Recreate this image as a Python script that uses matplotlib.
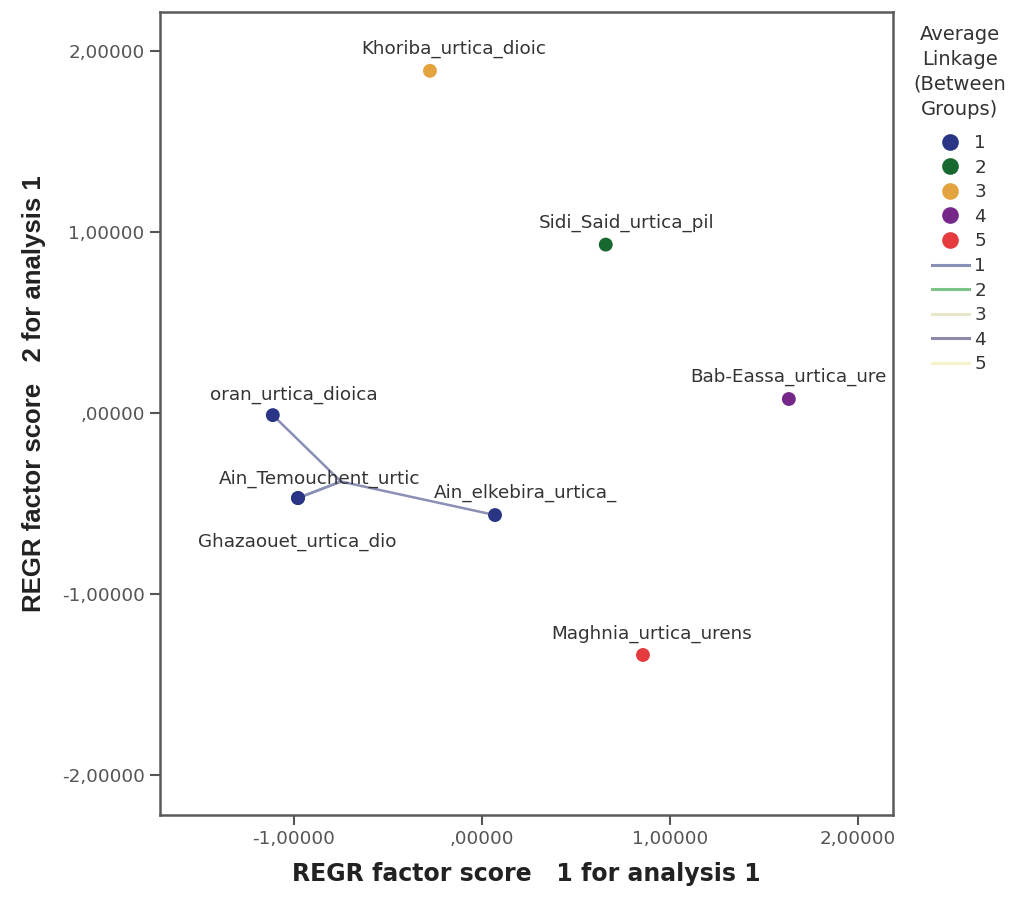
import matplotlib
matplotlib.use("Agg")
import matplotlib.pyplot as plt
from matplotlib.lines import Line2D
import numpy as np

plt.rcParams['font.family'] = ['DejaVu Sans']

# ---- data ----
names = ["Khoriba_urtica_dioic", "Sidi_Said_urtica_pil", "Bab-Eassa_urtica_ure",
         "oran_urtica_dioica", "Ain_Temouchent_urtic", "Ghazaouet_urtica_dio",
         "Ain_elkebira_urtica_", "Maghnia_urtica_urens"]
score1 = [-0.277, 0.658, 1.632, -1.113, -0.979, -0.979, 0.069, 0.856]
score2 = [1.89, 0.930, 0.077, -0.012, -0.470, -0.470, -0.564, -1.337]
cluster = [3, 2, 4, 1, 1, 1, 1, 5]
cluster_ids = [1, 2, 3, 4, 5]
xticks = [-1.0, 0.0, 1.0, 2.0]
xticklabels = ["-1,00000", ",00000", "1,00000", "2,00000"]
yticks = [-2.0, -1.0, 0.0, 1.0, 2.0]
yticklabels = ["-2,00000", "-1,00000", ",00000", "1,00000", "2,00000"]

# ---- style ----
marker_colors = {1: "#2a3585", 2: "#17692f", 3: "#e3a43f", 4: "#76288a", 5: "#e53a3e"}
line_colors = {1: "#8a8fb5", 2: "#7cc48a", 3: "#e9e6cc", 4: "#8d88aa", 5: "#f6f3cc"}
label_offsets = {  # pixel offsets of text (dx, dy)
    "Khoriba_urtica_dioic": (24, 22), "Sidi_Said_urtica_pil": (21, 22),
    "Bab-Eassa_urtica_ure": (0, 22), "oran_urtica_dioica": (21, 20),
    "Ain_Temouchent_urtic": (22, 19), "Ghazaouet_urtica_dio": (-1, -44),
    "Ain_elkebira_urtica_": (30, 22), "Maghnia_urtica_urens": (9, 21),
}

fig = plt.figure(figsize=(10.16, 8.99), dpi=100)
ax = fig.add_axes([160/1016, 84/899, 733/1016, 803/899])

x = np.array(score1); y = np.array(score2); c = np.array(cluster)

# centroid lines
for k in cluster_ids:
    m = c == k
    cx, cy = x[m].mean(), y[m].mean()
    for xi, yi in zip(x[m], y[m]):
        ax.plot([xi, cx], [yi, cy], color=line_colors[k], lw=1.8, zorder=2)

for k in cluster_ids:
    m = c == k
    ax.scatter(x[m], y[m], s=100, color=marker_colors[k], zorder=3, edgecolors='none')

for n, xi, yi in zip(names, score1, score2):
    dx, dy = label_offsets[n]
    ax.annotate(n, (xi, yi), xytext=(dx, dy), textcoords='offset pixels',
                ha='center', va='center', fontsize=13.2, color='#333333', zorder=4,
                annotation_clip=False, clip_on=True)

ax.set_xlim(-1.713, 2.186)
ax.set_ylim(-2.221, 2.215)
ax.set_xticks(xticks)
ax.set_xticklabels(xticklabels)
ax.set_yticks(yticks)
ax.set_yticklabels(yticklabels)
ax.tick_params(labelsize=13.2, colors='#555555', length=7, width=1.5, labelcolor='#555555', pad=4)
for s in ax.spines.values():
    s.set_color('#5a5a5a'); s.set_linewidth(1.8)
ax.set_xlabel("REGR factor score   1 for analysis 1", fontsize=17, fontweight='bold',
              color='#222222')
ax.xaxis.set_label_coords(0.5, -0.058)
ax.set_ylabel("REGR factor score   2 for analysis 1", fontsize=18.5, fontweight='bold',
              color='#222222', family='Liberation Sans')
ax.yaxis.set_label_coords((46 - 160) / 733, (815 - 394) / 803)

# legend
fig.text(960/1016, 1 - 25/899, "Average\nLinkage\n(Between\nGroups)", ha='center', va='top',
         multialignment='center', fontsize=14, color='#333333', linespacing=1.4)
handles = [Line2D([], [], marker='o', ls='none', markersize=12, color=marker_colors[k],
                  markeredgewidth=0) for k in cluster_ids]
handles += [Line2D([], [], color=line_colors[k], lw=2.2) for k in cluster_ids]
labels = [str(k) for k in cluster_ids] * 2
leg = fig.legend(handles, labels, loc='upper left', bbox_to_anchor=(932/1016, 1 - 134/899),
                 frameon=False, fontsize=13.2, labelspacing=0.36, handlelength=2.0,
                 handletextpad=0.3, borderaxespad=0, borderpad=0)
for t in leg.get_texts():
    t.set_color('#333333')

fig.savefig("out.png", dpi=100)
